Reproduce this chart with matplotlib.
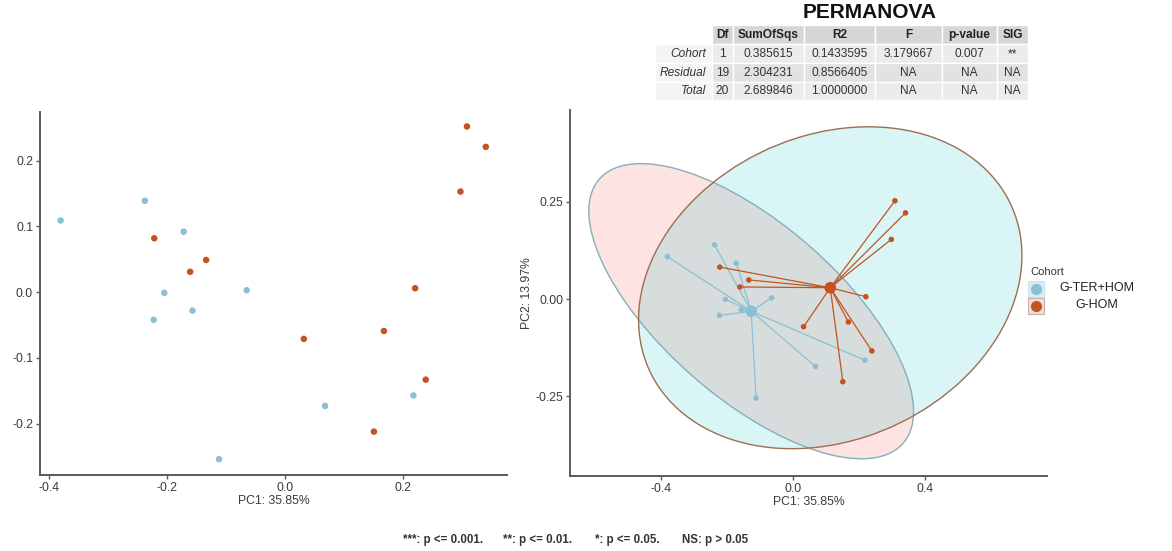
import numpy as np
import matplotlib
matplotlib.use("Agg")
import matplotlib.pyplot as plt
from matplotlib.patches import Ellipse, Rectangle
from matplotlib.lines import Line2D

plt.rcParams['font.family'] = ['Liberation Sans', 'DejaVu Sans']
plt.rcParams['axes.unicode_minus'] = False

# ---------------- data ----------------
blue_pc1 = [-0.381, -0.238, -0.172, -0.205, -0.223, -0.157, -0.065, -0.112, 0.068, 0.218]
blue_pc2 = [0.109, 0.139, 0.092, -0.001, -0.042, -0.028, 0.003, -0.254, -0.173, -0.157]
red_pc1 = [-0.222, -0.161, -0.134, 0.032, 0.168, 0.221, 0.239, 0.151, 0.298, 0.309, 0.341]
red_pc2 = [0.082, 0.031, 0.049, -0.071, -0.059, 0.006, -0.133, -0.212, 0.153, 0.252, 0.221]
groups = ["G-TER+HOM", "G-HOM"]

table_title = "PERMANOVA"
table_cols = ["Df", "SumOfSqs", "R2", "F", "p-value", "SIG"]
table_rows = ["Cohort", "Residual", "Total"]
table_cells = [
    ["1", "0.385615", "0.1433595", "3.179667", "0.007", "**"],
    ["19", "2.304231", "0.8566405", "NA", "NA", "NA"],
    ["20", "2.689846", "1.0000000", "NA", "NA", "NA"],
]
footnote_parts = ["***: p <= 0.001.", "**: p <= 0.01.", "*: p <= 0.05.", "NS: p > 0.05"]
xlab = "PC1: 35.85%"
ylab = "PC2: 13.97%"

# ---------------- styles ----------------
c_blue = "#8BC0D4"
c_red = "#C4531F"
edge_blue = "#86AEBE"
edge_red = "#9E6E50"
fill_blue_group = "#F8766D"   # fills are swapped in the reference
fill_red_group = "#00BFC4"
spine_c = "#5a5a5a"
tick_c = "#3a3a3a"

W, H = 1172, 551
fig = plt.figure(figsize=(W / 100, H / 100), dpi=100)


def fx(px):
    return px / W


def fy(py):
    return 1 - py / H


def style_ax(ax):
    for s in ["top", "right"]:
        ax.spines[s].set_visible(False)
    for s in ["left", "bottom"]:
        ax.spines[s].set_color(spine_c)
        ax.spines[s].set_linewidth(1.4)
    ax.tick_params(axis="both", colors=spine_c, labelcolor=tick_c, labelsize=8.8,
                   length=3, width=1.0, pad=2)
    ax.set_facecolor("none")


# ---------- left panel ----------
axL = fig.add_axes([fx(40), fy(475), fx(507 - 40), (475 - 112) / H])
style_ax(axL)
axL.scatter(blue_pc1, blue_pc2, s=22, color=c_blue, edgecolors="none", zorder=3)
axL.scatter(red_pc1, red_pc2, s=22, color=c_red, edgecolors="none", zorder=3)
axL.set_xlim(-0.416, 0.377)
axL.set_ylim(-0.278, 0.274)
axL.set_xticks([-0.4, -0.2, 0.0, 0.2])
axL.set_xticklabels(["-0.4", "-0.2", "0.0", "0.2"])
axL.set_yticks([-0.2, -0.1, 0.0, 0.1, 0.2])
axL.set_yticklabels(["-0.2", "-0.1", "0.0", "0.1", "0.2"])
axL.set_xlabel(xlab, fontsize=8.8, color=tick_c, labelpad=1)

# ---------- right panel ----------
axR = fig.add_axes([fx(570), fy(476), fx(1047 - 570), (476 - 110) / H])
style_ax(axR)
axR.set_xlim(-0.676, 0.770)
axR.set_ylim(-0.454, 0.485)


def t_ellipse(x, y, level=0.95):
    x = np.asarray(x)
    y = np.asarray(y)
    n = len(x)
    cov = np.cov(x, y)
    d2 = n - 1
    fq = d2 / 2.0 * ((1 - level) ** (-2.0 / d2) - 1)   # F(2, n-1) quantile
    r = np.sqrt(2 * fq)
    vals, vecs = np.linalg.eigh(cov)
    order = vals.argsort()[::-1]
    vals, vecs = vals[order], vecs[:, order]
    ang = np.degrees(np.arctan2(vecs[1, 0], vecs[0, 0]))
    return (x.mean(), y.mean()), 2 * r * np.sqrt(vals[0]), 2 * r * np.sqrt(vals[1]), ang


for px, py, fill, edge, a in [(blue_pc1, blue_pc2, fill_blue_group, edge_blue, 0.2),
                              (red_pc1, red_pc2, fill_red_group, edge_red, 0.15)]:
    cen, w, h, ang = t_ellipse(px, py)
    axR.add_patch(Ellipse(cen, w, h, angle=ang, facecolor=fill, alpha=a,
                          edgecolor="none", zorder=1))
    axR.add_patch(Ellipse(cen, w, h, angle=ang, facecolor="none",
                          edgecolor=edge, linewidth=1.0, zorder=1.5))

for px, py, col in [(blue_pc1, blue_pc2, c_blue), (red_pc1, red_pc2, c_red)]:
    cx, cy = np.mean(px), np.mean(py)
    for xi, yi in zip(px, py):
        axR.plot([cx, xi], [cy, yi], color=col, linewidth=0.9, zorder=2)
    axR.scatter(px, py, s=16, color=col, edgecolors="none", zorder=3)
    axR.scatter([cx], [cy], s=70, color=col, edgecolors="none", zorder=4)

axR.set_xticks([-0.4, 0.0, 0.4])
axR.set_xticklabels(["-0.4", "0.0", "0.4"])
axR.set_yticks([-0.25, 0.0, 0.25])
axR.set_yticklabels(["-0.25", "0.00", "0.25"])
axR.set_xlabel(xlab, fontsize=8.8, color=tick_c, labelpad=1)
axR.set_ylabel(ylab, fontsize=8.8, color=tick_c, labelpad=2)

# ---------- PERMANOVA table ----------
fig.text(fx(870), fy(13), table_title, ha="center", va="center",
         fontsize=15, fontweight="bold", color="#111111")
col_edges = [712, 733, 804, 875, 942, 997, 1028]
row_edges = [25, 44, 63, 82, 100]
for j, name in enumerate(table_cols):
    x0, x1 = col_edges[j], col_edges[j + 1]
    fig.patches.append(Rectangle((fx(x0), fy(row_edges[1])), fx(x1 - x0),
                                 (row_edges[1] - row_edges[0]) / H,
                                 transform=fig.transFigure, facecolor="#d6d6d6",
                                 edgecolor="white", linewidth=1.0, zorder=0))
    fig.text(fx((x0 + x1) / 2), fy((row_edges[0] + row_edges[1]) / 2 + 0.5), name,
             ha="center", va="center", fontsize=8.6, fontweight="bold", color="#222222")
row_bg = ["#ebebeb", "#e2e2e2", "#ebebeb"]
for i, rname in enumerate(table_rows):
    y0, y1 = row_edges[i + 1], row_edges[i + 2]
    fig.patches.append(Rectangle((fx(655), fy(y1)), fx(712 - 655), (y1 - y0) / H,
                                 transform=fig.transFigure, facecolor="#f4f4f4",
                                 edgecolor="white", linewidth=1.0, zorder=0))
    fig.text(fx(706), fy((y0 + y1) / 2 + 0.5), rname, ha="right", va="center",
             fontsize=8.6, fontstyle="italic", color="#333333")
    for j, val in enumerate(table_cells[i]):
        x0, x1 = col_edges[j], col_edges[j + 1]
        fig.patches.append(Rectangle((fx(x0), fy(y1)), fx(x1 - x0), (y1 - y0) / H,
                                     transform=fig.transFigure, facecolor=row_bg[i],
                                     edgecolor="white", linewidth=1.0, zorder=0))
        fig.text(fx((x0 + x1) / 2), fy((y0 + y1) / 2 + 0.5), val, ha="center",
                 va="center", fontsize=8.6, color="#333333")

# ---------- legend ----------
fig.text(fx(1030), fy(272), "Cohort", ha="left", va="center", fontsize=8, color="#333333")
key_fill = ["#d3eef5", "#f3ddd8"]
key_edge = ["#cfe3ea", "#c9b0a8"]
for k, (g, col) in enumerate(zip(groups, [c_blue, c_red])):
    yc = 289 + 17 * k
    fig.patches.append(Rectangle((fx(1028), fy(yc + 8)), fx(16), 16 / H,
                                 transform=fig.transFigure, facecolor=key_fill[k],
                                 edgecolor=key_edge[k], linewidth=0.8, zorder=1))
    fig.lines.append(Line2D([fx(1036)], [fy(yc)], transform=fig.transFigure,
                            marker="o", markersize=7, color=col, linestyle="none"))
    fig.text(fx(1097), fy(yc - 1), g, ha="center", va="center", fontsize=9, color="#222222")

# ---------- footnote ----------
for xs, part in zip([403, 503, 595, 682], footnote_parts):
    fig.text(fx(xs), fy(540), part, ha="left", va="center", fontsize=8.3,
             fontweight="bold", color="#333333")

fig.savefig("out.png", dpi=100)
